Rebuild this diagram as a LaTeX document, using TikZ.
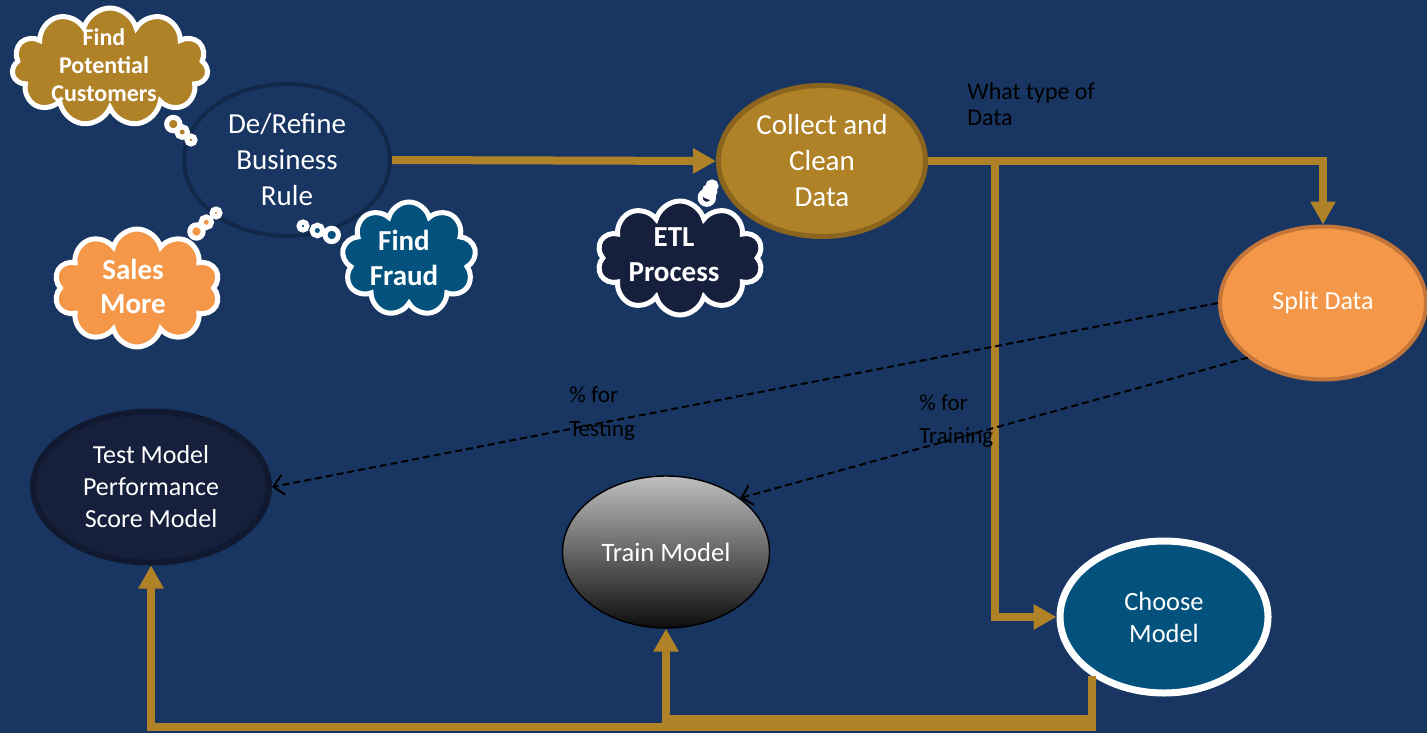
\documentclass[tikz,border=0pt]{standalone}
\usepackage{fontspec}
\setmainfont{Carlito}
\usetikzlibrary{shapes.geometric,shapes.symbols,shapes.callouts,arrows.meta}

\definecolor{bg}{RGB}{24,54,97}
\definecolor{gold}{RGB}{176,130,40}
\definecolor{goldrim}{RGB}{139,101,30}
\definecolor{rulerim}{RGB}{18,40,75}
\definecolor{navy}{RGB}{22,32,60}
\definecolor{navyrim}{RGB}{16,25,48}
\definecolor{teal}{RGB}{2,82,125}
\definecolor{peach}{RGB}{245,151,72}
\definecolor{peachrim}{RGB}{196,118,58}

\tikzset{
  proc/.style={ellipse, inner sep=0pt, align=center, text=white},
  goldline/.style={draw=gold, line width=4pt},
  goldarrow/.style={goldline, -{Triangle[length=11.5pt,width=12pt]}},
  dasharrow/.style={draw=black, line width=1pt, dash pattern=on 3.5pt off 2pt,
    -{Straight Barb[length=5pt,width=10pt]}},
  thought/.style={cloud callout, cloud ignores aspect, draw=white, line width=2.5pt,
    inner sep=0pt, callout pointer segments=3,
    callout pointer start size=8pt and 8pt, callout pointer end size=4pt and 4pt},
  cloudtext/.style={text=white, align=center, inner sep=0pt, font=\bfseries},
  note/.style={text=black, align=left, inner sep=0pt, anchor=north west},
}

\begin{document}
\begin{tikzpicture}[x=0.5pt,y=-0.5pt]
% canvas
\fill[bg] (0,0) rectangle (1427,733);
\useasboundingbox (0,0) rectangle (1427,733);

% process ellipses
\node[proc, fill=bg, draw=rulerim, line width=2pt, minimum width=103pt, minimum height=76pt,
  font=\fontsize{14.5pt}{18pt}\selectfont] (rule) at (287,160) {De/Refine\\Business\\Rule};
\node[proc, fill=gold, draw=goldrim, line width=2.5pt, minimum width=103.5pt, minimum height=75.5pt,
  font=\fontsize{14.5pt}{18pt}\selectfont] (collect) at (822,161) {Collect and\\Clean\\Data};
\node[proc, fill=peach, draw=peachrim, line width=2pt, minimum width=103pt, minimum height=76.5pt,
  font=\fontsize{13pt}{16pt}\selectfont] (split) at (1323,303) {Split Data};
\node[proc, fill=navy, draw=navyrim, line width=3pt, minimum width=118pt, minimum height=75.5pt,
  font=\fontsize{13pt}{16pt}\selectfont] (test) at (151,487) {Test Model\\Performance\\Score Model};
\node[proc, top color=black!25, middle color=black!50, bottom color=black!95, draw=black, line width=0.7pt,
  minimum width=103.5pt, minimum height=76pt,
  font=\fontsize{13.3pt}{16pt}\selectfont] (train) at (666,552) {Train Model};
\node[proc, fill=teal, draw=white, line width=3.5pt, minimum width=104pt, minimum height=76pt,
  font=\fontsize{13.2pt}{16pt}\selectfont] (choose) at (1164,617) {Choose\\Model};

% gold flow connectors
\coordinate (tap) at (995,161);
\coordinate (loopA) at (1092,719);
\coordinate (loopB) at (1092,727);
\draw[goldarrow] (rule.east) -- (collect.west);
\draw[goldarrow] (collect.east) -| (split.north);
\draw[goldarrow] (tap) |- (choose.west);
\draw[goldarrow] (choose.219) |- (train.south |- loopA) -- (train.south);
\draw[goldarrow] (choose.219) |- (test.south |- loopB) -- (test.south);

% labels
\node[note, font=\fontsize{12pt}{13pt}\selectfont] (kind) at (967,82) {What type of\\Data};
\node[note, font=\fontsize{11.6pt}{17pt}\selectfont] (pctest) at (569,386) {\% for\\Testing};
\node[note, font=\fontsize{11.5pt}{16.5pt}\selectfont] (pctrain) at (919,394) {\% for\\Training};

% split data flows
\draw[dasharrow] (split.180) -- (test.east);
\draw[dasharrow] (split.216) -- (train.36);

% thought clouds
\node[thought, fill=gold, cloud puffs=11, minimum width=98pt, minimum height=59pt,
  callout absolute pointer={(191,140)}] (potential) at (110,67) {};
\node[cloudtext, font=\bfseries\fontsize{12pt}{14pt}\selectfont] (potentialtxt) at (104,65) {Find\\Potential\\Customers};

\node[thought, fill=peach, cloud puffs=10, minimum width=83pt, minimum height=59pt,
  callout absolute pointer={(216,213)}] (sales) at (137,288) {};
\node[cloudtext, font=\bfseries\fontsize{14.5pt}{17pt}\selectfont] (salestxt) at (133,286) {Sales\\More};

\node[thought, fill=teal, cloud puffs=9, minimum width=67pt, minimum height=57pt,
  callout absolute pointer={(303,226)}] (fraud) at (409,259) {};
\node[cloudtext, font=\bfseries\fontsize{14.5pt}{17.5pt}\selectfont] (fraudtxt) at (404,258) {Find\\Fraud};

\node[thought, fill=navy, cloud puffs=10, minimum width=83pt, minimum height=57pt,
  callout absolute pointer={(712,186)}] (etl) at (680,258) {};
\node[cloudtext, font=\bfseries\fontsize{14.5pt}{17.5pt}\selectfont] (etltxt) at (674,255) {ETL\\Process};
\end{tikzpicture}
\end{document}
